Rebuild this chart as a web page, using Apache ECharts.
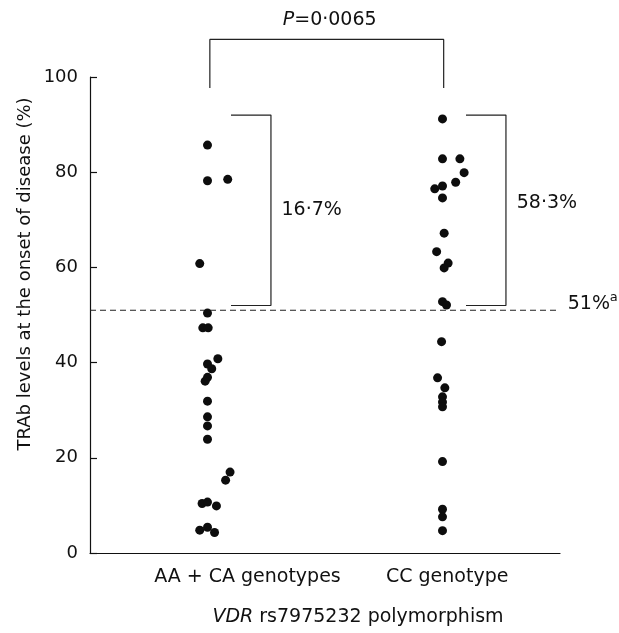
<!DOCTYPE html>
<html>
<head>
<meta charset="utf-8">
<script src="https://cdn.jsdelivr.net/npm/echarts@6/dist/echarts.min.js"></script>
<style>
  html, body { margin: 0; padding: 0; background: #fff; }
  #main { width: 619px; height: 633px; }
</style>
</head>
<body>
<div id="main"></div>
<script>
// categories and TRAb values (%)
const categories = ['AA + CA genotypes', 'CC genotype'];
const yTicks = [0, 20, 40, 60, 80, 100];

const aaCaTrab = [85.7, 78.2, 78.5, 60.8, 50.4, 47.3, 47.3, 40.8, 39.7, 38.7, 36.9, 36.1,
  31.9, 28.6, 26.7, 23.9, 17.0, 15.3, 10.4, 10.7, 9.9, 4.8, 5.4, 4.3];
// horizontal scatter of the dots, in category units
const aaCaJitter = [0, 0, 0.086, -0.033, 0, -0.02, 0.003, 0.044, 0, 0.018, 0, -0.01,
  0, 0, 0, 0, 0.096, 0.077, -0.023, 0, 0.038, -0.033, 0, 0.03];

const ccTrab = [91.2, 82.8, 82.8, 79.9, 77.9, 77.1, 76.5, 74.6, 67.2, 63.3, 60.9, 59.9,
  52.8, 52.1, 44.4, 36.8, 34.7, 32.8, 31.7, 30.7, 19.2, 9.2, 7.6, 4.7];
const ccJitter = [0, 0, 0.074, 0.092, 0.056, 0, -0.033, 0, 0.007, -0.025, 0.024, 0.007,
  0, 0.017, -0.004, -0.021, 0.01, 0, 0, 0, 0, 0, 0, 0];

const threshold = 51;
const percentAbove = ['16·7%', '58·3%'];
const pValue = '0·0065';

const FONT = '"DejaVu Sans", "Liberation Sans", Arial, sans-serif';
const INK = '#111';

const chart = echarts.init(document.getElementById('main'));

function points(values, jitter, pos) {
  return values.map((v, i) => [pos + jitter[i], v]);
}

// bracket outlines (x in category units, y in %)
function groupBracket(pos) {
  return [[pos + 0.1, 92], [pos + 0.27, 92], [pos + 0.27, 52], [pos + 0.1, 52]];
}
const pBracket = [[1.01, 97.7], [1.01, 107.9], [2.005, 107.9], [2.005, 97.7]];

function lineSeries(data, dashed) {
  return {
    type: 'line',
    data: data,
    symbol: 'none',
    clip: false,
    silent: true,
    lineStyle: { color: '#222', width: 1.2, type: dashed ? [6, 4] : 'solid' },
    z: 1
  };
}

function dots(data) {
  return {
    type: 'scatter',
    data: data,
    symbolSize: 9,
    itemStyle: { color: '#0d0d0d', opacity: 1 },
    z: 3
  };
}

chart.setOption({
  animation: false,
  grid: { left: 90, right: 59, top: 77, bottom: 80 },
  xAxis: {
    type: 'value',
    min: 0.5,
    max: 2.5,
    axisLine: { show: true, onZero: false, lineStyle: { color: INK, width: 1.2 } },
    axisTick: { show: false },
    axisLabel: { show: false },
    splitLine: { show: false }
  },
  yAxis: {
    type: 'value',
    min: yTicks[0],
    max: yTicks[yTicks.length - 1],
    interval: 20,
    axisLine: { show: true, lineStyle: { color: INK, width: 1.2 } },
    axisTick: { show: true, inside: true, length: 7, lineStyle: { color: INK, width: 1.2 } },
    axisLabel: { color: INK, fontSize: 18, fontFamily: FONT, margin: 12 },
    splitLine: { show: false }
  },
  series: [
    lineSeries([[0.5, threshold], [2.5, threshold]], true),
    lineSeries(groupBracket(1), false),
    lineSeries(groupBracket(2), false),
    lineSeries(pBracket, false),
    dots(points(aaCaTrab, aaCaJitter, 1)),
    dots(points(ccTrab, ccJitter, 2))
  ]
});

const px = (x, y) => chart.convertToPixel({ gridIndex: 0 }, [x, y]);

function text(pt, str, opts) {
  return Object.assign({
    type: 'text',
    x: pt[0],
    y: pt[1],
    style: Object.assign({
      text: str,
      fill: INK,
      font: '19px ' + FONT
    }, opts.style || {})
  }, opts.el || {});
}

const pTop = px(1.52, 107.9);
const lab1 = px(1.17, 0);
const lab2 = px(2.02, 0);
const g1 = px(1.315, 72.1);
const g2 = px(2.316, 73.5);
const thr = px(2.533, threshold);

chart.setOption({
  graphic: [
    text([pTop[0], pTop[1] - 10], '{i|P}=' + pValue, {
      style: {
        align: 'center', verticalAlign: 'bottom',
        rich: { i: { fontStyle: 'italic', fontSize: 19, fontFamily: FONT, fill: INK } }
      }
    }),
    text(g1, percentAbove[0], { style: { align: 'left', verticalAlign: 'middle' } }),
    text(g2, percentAbove[1], { style: { align: 'left', verticalAlign: 'middle' } }),
    text([thr[0], thr[1] + 3], '51%', { style: { align: 'left', verticalAlign: 'bottom' } }),
    text([thr[0] + 42, thr[1] - 6], 'a', { style: { align: 'left', verticalAlign: 'bottom', font: '13px ' + FONT } }),
    text([lab1[0], lab1[1] + 34], categories[0], { style: { align: 'center', verticalAlign: 'bottom' } }),
    text([lab2[0], lab2[1] + 34], categories[1], { style: { align: 'center', verticalAlign: 'bottom' } }),
    text([358, 627], '{i|VDR} rs7975232 polymorphism', {
      style: {
        align: 'center', verticalAlign: 'bottom',
        rich: { i: { fontStyle: 'italic', fontSize: 19, fontFamily: FONT, fill: INK } }
      }
    }),
    text([25, 274], 'TRAb levels at the onset of disease (%)', {
      style: { align: 'center', verticalAlign: 'middle', font: '18px ' + FONT },
      el: { rotation: Math.PI / 2 }
    })
  ]
});

window.addEventListener('resize', () => chart.resize());
</script>
</body>
</html>
